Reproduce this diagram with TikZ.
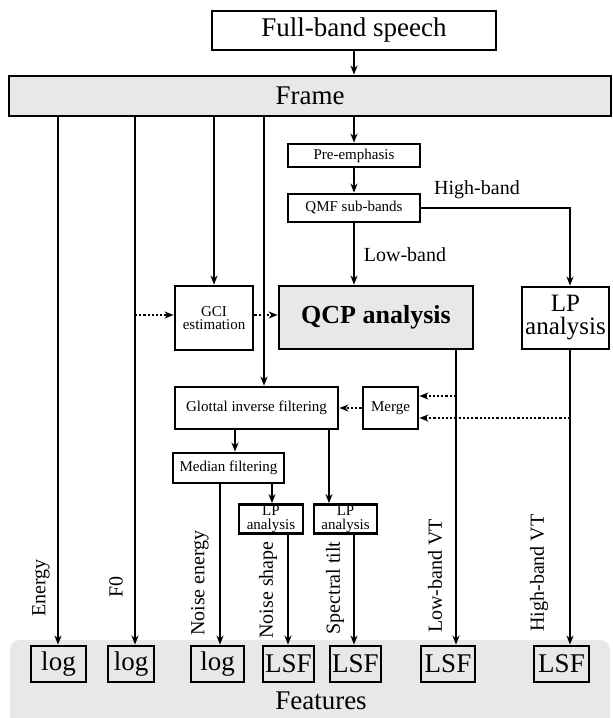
\documentclass[tikz,border=0pt]{standalone}
\usepackage{fontspec}
\setmainfont{Liberation Serif}
\usetikzlibrary{arrows.meta}
\definecolor{boxgray}{RGB}{232,232,232}
\newcommand\myXL{\fontsize{27}{27}\selectfont}
\newcommand\myL{\fontsize{25}{23}\selectfont}
\newcommand\myQ{\fontsize{26}{26}\selectfont}
\newcommand\myM{\fontsize{20}{20}\selectfont}
\newcommand\myS{\fontsize{15}{13.5}\selectfont}
\begin{document}
\begin{tikzpicture}[x=1pt,y=-1pt,
  box/.style={draw, line width=2.8pt, inner sep=0pt, align=center},
  ln/.style={line width=2.1pt},
  arr/.style={ln, -{Stealth[length=9pt,width=7pt,inset=2.8pt]}},
  dotarr/.style={arr, dash pattern=on 2.2pt off 2pt},
  lab/.style={inner sep=0pt, font=\myM},
  vlab/.style={lab, rotate=90}]
\useasboundingbox (0,0) rectangle (613,718);
\begin{scope}
\clip (0,0) rectangle (613,718);
\fill[boxgray, rounded corners=10pt] (10,640) rectangle (610,740);
\end{scope}
% main nodes
\node[box, minimum width=284pt, minimum height=39pt, font=\myXL] (fb) at (354,30.5) {Full-band speech};
\node[box, fill=boxgray, minimum width=602pt, minimum height=40pt, font=\myXL] (frame) at (310,96) {Frame};
\node[box, minimum width=132pt, minimum height=23pt, font=\myS] (pre) at (354,155.5) {Pre-emphasis};
\node[box, minimum width=132pt, minimum height=28pt, font=\myS] (qmf) at (354,208) {QMF sub-bands};
\node[box, minimum width=78pt, minimum height=64pt, font=\myS] (gci) at (214,318) {GCI\\estimation};
\node[box, fill=boxgray, minimum width=194pt, minimum height=63pt, font=\myQ\bfseries] (qcp) at (376,317.5) {QCP analysis};
\node[box, minimum width=87pt, minimum height=62pt, font=\myL] (lp) at (565.5,318) {LP\\analysis};
\node[box, minimum width=163pt, minimum height=42pt, font=\myS] (gif) at (256.5,408) {Glottal inverse filtering};
\node[box, minimum width=55pt, minimum height=42pt, font=\myS] (merge) at (390.5,408) {Merge};
\node[box, minimum width=111pt, minimum height=30pt, font=\myS] (median) at (228.5,468) {Median filtering};
\node[box, minimum width=64pt, minimum height=29pt, font=\myS] (lp1) at (271,519) {LP\\analysis};
\node[box, minimum width=63pt, minimum height=29pt, font=\myS] (lp2) at (345.5,519) {LP\\analysis};
% feature boxes
\node[box, minimum width=55pt, minimum height=36pt, font=\myXL] (log1) at (58.5,664) {log};
\node[box, minimum width=46pt, minimum height=36pt, font=\myXL] (log2) at (131,664) {log};
\node[box, minimum width=53pt, minimum height=36pt, font=\myXL] (log3) at (217.5,664) {log};
\node[box, minimum width=51pt, minimum height=36pt, font=\myXL] (lsf1) at (288.5,664) {LSF};
\node[box, minimum width=51pt, minimum height=36pt, font=\myXL] (lsf2) at (355.5,664) {LSF};
\node[box, minimum width=54pt, minimum height=36pt, font=\myXL] (lsf3) at (448,664) {LSF};
\node[box, minimum width=55pt, minimum height=36pt, font=\myXL] (lsf4) at (561.5,664) {LSF};
\node[inner sep=0pt, font=\myXL] (feat) at (321,701) {Features};
% x positions of vertical lines
\coordinate (xe) at (58,0);
\coordinate (xf) at (135,0);
\coordinate (xg) at (264,0);
\coordinate (xq) at (456,0);
\coordinate (xl) at (570,0);
\coordinate (xm) at (235,0);
\coordinate (xs) at (329,0);
\coordinate (xn) at (220,0);
\coordinate (xp) at (272,0);
\coordinate (xa) at (288,0);
\coordinate (xb) at (354,0);
\coordinate (d1) at (135,315);
\coordinate (m1) at (456,396);
\coordinate (m2) at (570,418);
% connectors
\draw[arr] (fb.south) -- (fb.south |- frame.north);
\draw[arr] (frame.south -| pre) -- (pre.north);
\draw[arr] (pre.south) -- (qmf.north);
\draw[arr] (qmf.south) -- (qmf.south |- qcp.north);
\draw[arr] (qmf.east) -| (lp.north -| xl);
\draw[arr] (frame.south -| xe) -- (log1.north -| xe);
\draw[arr] (frame.south -| xf) -- (log2.north -| xf);
\draw[arr] (frame.south -| gci) -- (gci.north);
\draw[arr] (frame.south -| xg) -- (gif.north -| xg);
\draw[dotarr] (d1) -- (d1 -| gci.west);
\draw[dotarr] (gci.east |- d1) -- (qcp.west |- d1);
\draw[arr] (qcp.south -| xq) -- (lsf3.north -| xq);
\draw[arr] (lp.south -| xl) -- (lsf4.north -| xl);
\draw[dotarr] (m1) -- (m1 -| merge.east);
\draw[dotarr] (m2) -- (m2 -| merge.east);
\draw[dotarr] (merge.west) -- (merge.west -| gif.east);
\draw[arr] (gif.south -| xm) -- (median.north -| xm);
\draw[arr] (gif.south -| xs) -- (lp2.north -| xs);
\draw[arr] (median.south -| xn) -- (log3.north -| xn);
\draw[arr] (median.south -| xp) -- (lp1.north -| xp);
\draw[arr] (lp1.south -| xa) -- (lsf1.north -| xa);
\draw[arr] (lp2.south -| xb) -- (lsf2.north -| xb);
% labels
\node[lab] (hb) at (477,190) {High-band};
\node[lab] (lb) at (405,255) {Low-band};
\node[vlab] (tE) at (41,588) {Energy};
\node[vlab] (tF) at (116,587) {F0};
\node[vlab] (tNE) at (200,583) {Noise energy};
\node[vlab] (tNS) at (268,590) {Noise shape};
\node[vlab] (tST) at (335,588) {Spectral tilt};
\node[vlab] (tLV) at (435,576) {Low-band VT};
\node[vlab] (tHV) at (539,573) {High-band VT};
\end{tikzpicture}
\end{document}
